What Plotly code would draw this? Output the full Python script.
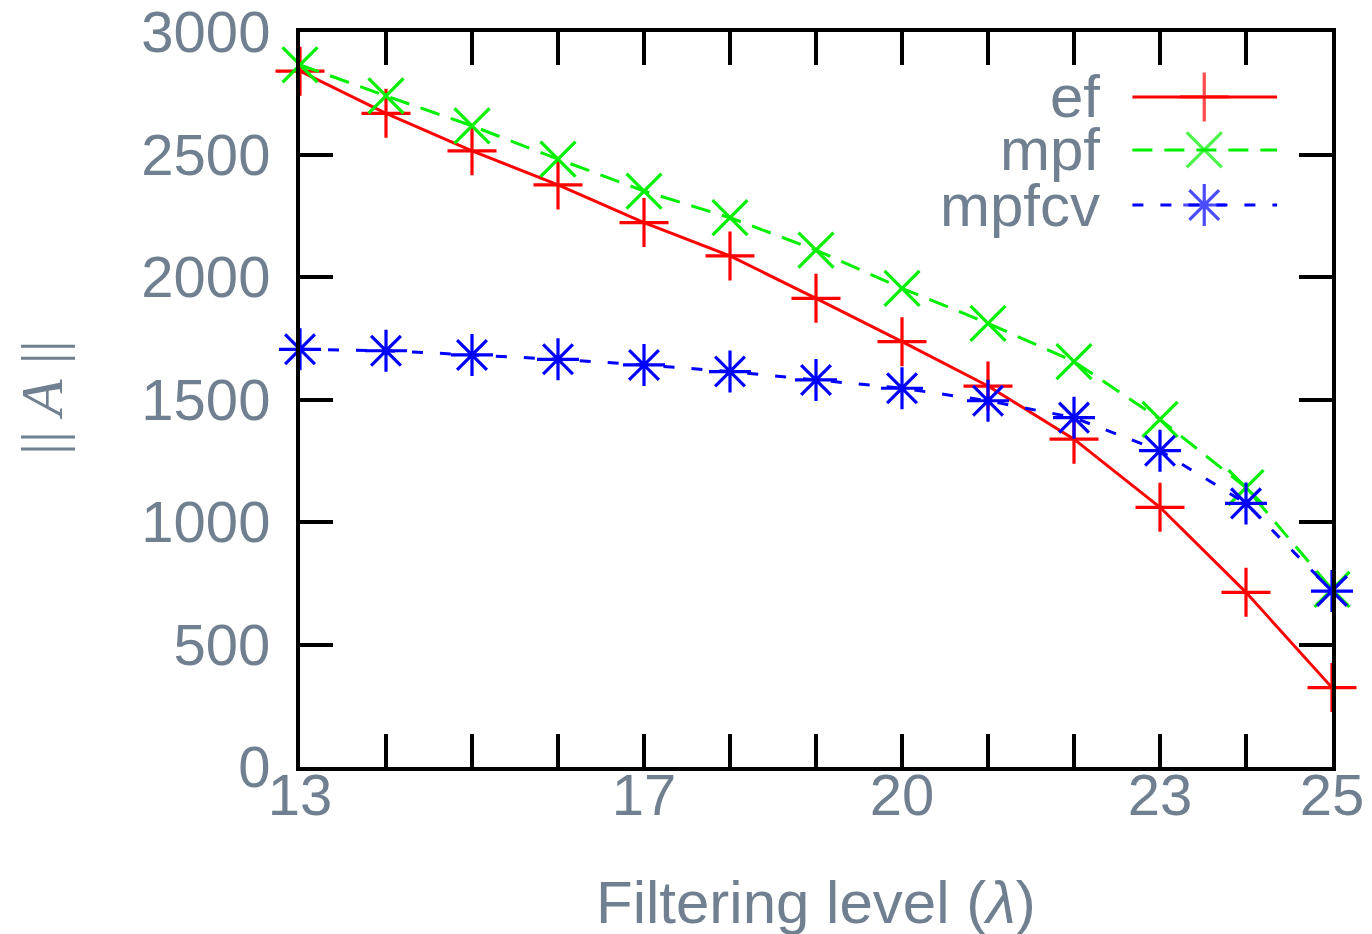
import plotly.graph_objects as go

# ---- data ----
lam = [13, 14, 15, 16, 17, 18, 19, 20, 21, 22, 23, 24, 25]
ef = [2840, 2668, 2515, 2376, 2222, 2086, 1913, 1736, 1555, 1338, 1060, 713, 324]
mpf = [2866, 2739, 2617, 2481, 2351, 2242, 2110, 1954, 1811, 1655, 1419, 1140, 725]
mpfcv = [1705, 1699, 1682, 1664, 1641, 1614, 1580, 1546, 1495, 1426, 1291, 1076, 718]
series_names = ["ef", "mpf", "mpfcv"]
x_tick_vals = lam
x_tick_text = ["13", "", "", "", "17", "", "", "20", "", "", "23", "", "25"]
y_tick_vals = [0, 500, 1000, 1500, 2000, 2500, 3000]
y_tick_text = ["0", "500", "1000", "1500", "2000", "2500", "3000"]

# ---- styles ----
TXT = "#708090"
FONT = "Liberation Sans, Arial, sans-serif"
styles = [
    dict(color="#ff0000", dash="solid", symbol="cross-thin"),
    dict(color="#00ee00", dash="20px,12px", symbol="x-thin"),
    dict(color="#0000ff", dash="11px,17px", symbol="asterisk-open"),
]
MS = 35
LW = 3
MLW = 3.2
series = [ef, mpf, mpfcv]

fig = go.Figure()
for name, vals, st in zip(series_names, series, styles):
    fig.add_trace(go.Scatter(
        x=lam, y=vals, name=name, mode="lines+markers", cliponaxis=False,
        line=dict(color=st["color"], width=LW, dash=st["dash"]),
        marker=dict(symbol=st["symbol"], size=MS, color=st["color"],
                    line=dict(color=st["color"], width=MLW)),
        showlegend=False,
    ))

# manual legend (text left of key, like the reference)
leg_y = [0.9116, 0.8395, 0.7646]
key_x0, key_xm, key_x1 = 0.8066, 0.8762, 0.9468
for name, st, yy in zip(series_names, styles, leg_y):
    fig.add_trace(go.Scatter(
        x=[key_x0, key_xm, key_x1], y=[yy, yy, yy], xaxis="x2", yaxis="y2",
        mode="lines+markers", cliponaxis=False, showlegend=False, hoverinfo="skip",
        line=dict(color=st["color"], width=LW, dash=st["dash"]),
        marker=dict(symbol=st["symbol"], size=[0, MS, 0], color=st["color"],
                    line=dict(color=st["color"], width=MLW)),
    ))
    fig.add_annotation(x=0.7776, y=yy, xref="paper", yref="paper", text=name,
                       showarrow=False, xanchor="right", yanchor="middle",
                       font=dict(family=FONT, size=60, color=TXT))

axis_common = dict(
    showgrid=False, zeroline=False, showline=True, linecolor="black", linewidth=4,
    mirror="allticks", ticks="inside", ticklen=33, tickwidth=3.5, tickcolor="black",
    tickfont=dict(family=FONT, size=58, color=TXT), ticklabeloverflow="allow",
    automargin=False,
)
# page body adds a small offset; compensate so the plot area lands at 298..1332 x 32..767
fig.update_layout(
    width=1364, height=926,
    margin=dict(l=292, r=40, t=24, b=167, autoexpand=False),
    paper_bgcolor="white", plot_bgcolor="white",
    xaxis=dict(range=[13, 25], tickmode="array", tickvals=x_tick_vals,
               ticktext=x_tick_text, ticklabelstandoff=-26, **axis_common),
    yaxis=dict(range=[0, 3000], tickmode="array", tickvals=y_tick_vals,
               ticktext=y_tick_text, ticklabelstandoff=14, **axis_common),
    xaxis2=dict(range=[0, 1], overlaying="x", visible=False, fixedrange=True),
    yaxis2=dict(range=[0, 1], overlaying="y", visible=False, fixedrange=True),
)
fig.add_annotation(x=0.5, y=-0.185, xref="paper", yref="paper",
                   text="Filtering level (<i>λ</i>)", showarrow=False,
                   xanchor="center", yanchor="middle",
                   font=dict(family=FONT, size=60, color=TXT))
fig.add_annotation(x=-0.25, y=0.502, xref="paper", yref="paper",
                   text="|| <i>A</i> ||", showarrow=False, textangle=-90,
                   xanchor="center", yanchor="middle",
                   font=dict(family="Liberation Serif, serif", size=60, color=TXT))

fig.write_html("out.html")
